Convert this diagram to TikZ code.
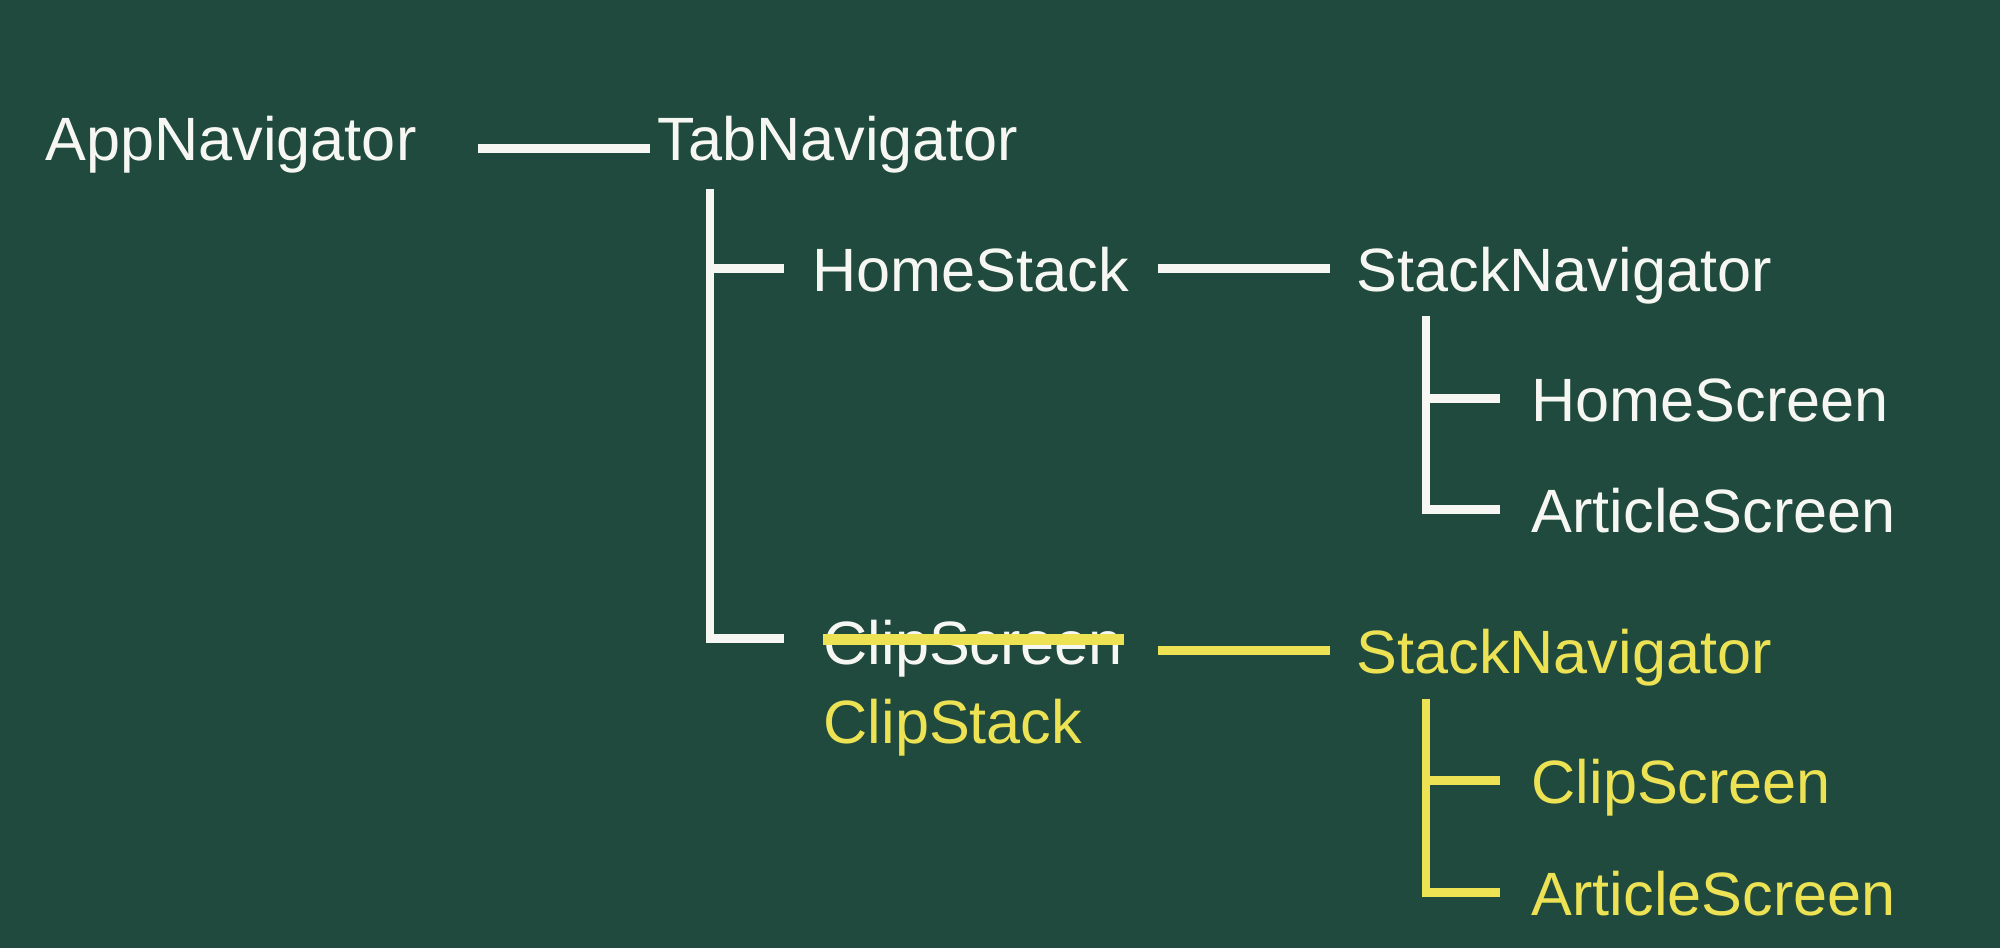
\documentclass[tikz,border=0pt]{standalone}
\usepackage{fontspec}
\setmainfont{Liberation Sans}
\definecolor{board}{RGB}{31,74,61}
\definecolor{chalk}{RGB}{246,247,242}
\definecolor{chalkyellow}{RGB}{236,226,84}
\begin{document}
\begin{tikzpicture}[x=0.01cm, y=-0.01cm]
\tikzstyle{every node} = [anchor=base west, inner sep=0pt, text height=0.45cm, text depth=0pt, text=chalk, font=\fontsize{17.4}{21}\selectfont]
\tikzstyle{line} = [draw=chalk, line width=2.5pt]
\tikzstyle{yline} = [draw=chalkyellow, line width=2.5pt]
\fill[board] (0,0) rectangle (2000,948);
\useasboundingbox (0,0) rectangle (2000,948);
\node (app) at (45,160) {AppNavigator};
\node (tab) at (657,160) {TabNavigator};
\node (home) at (812,291) {HomeStack};
\node (stack) at (1356,291) {StackNavigator};
\node (homescreen) at (1531,421) {HomeScreen};
\node (article) at (1531,532) {ArticleScreen};
\node (clipold) at (823,664) {ClipScreen};
\node[text=chalkyellow] (clip) at (823,743) {ClipStack};
\node[text=chalkyellow] (clipstack) at (1356,673) {StackNavigator};
\node[text=chalkyellow] (clipscreen) at (1531,803) {ClipScreen};
\node[text=chalkyellow] (cliparticle) at (1531,915) {ArticleScreen};
% trunks
\coordinate (t1) at ([xshift=0.53cm, yshift=-0.28cm]tab.south west);
\coordinate (t2) at ([xshift=0.70cm, yshift=-0.24cm]stack.south west);
\coordinate (t3) at ([xshift=0.70cm, yshift=-0.25cm]clipstack.south west);
\draw[line] ([xshift=0.61cm, yshift=-0.11cm]app.east) -- ([xshift=-0.07cm, yshift=-0.11cm]tab.west);
\draw[line] ([xshift=0.28cm]home.east) -- ([xshift=-0.26cm]stack.west);
\draw[yline] ([xshift=0.34cm]clipold.east |- clipstack.west) -- ([xshift=-0.26cm]clipstack.west);
\draw[line] (t1) |- ([xshift=-0.39cm, yshift=0.03cm]clipold.west);
\draw[line] (t2) |- ([xshift=-0.31cm]article.west);
\draw[yline] (t3) |- ([xshift=-0.31cm]cliparticle.west);
\draw[line] ([xshift=-0.28cm]home.west) -- (t1 |- home.west);
\foreach \leaf/\trunk/\col in {homescreen/t2/line, clipscreen/t3/yline}
\draw[\col] ([xshift=-0.31cm]\leaf.west) -- (\trunk |- \leaf.west);
% struck out
\draw[yline, line width=3.2pt] ([yshift=0.02cm]clipold.west) -- ([yshift=0.02cm]clipold.east);
\end{tikzpicture}
\end{document}
